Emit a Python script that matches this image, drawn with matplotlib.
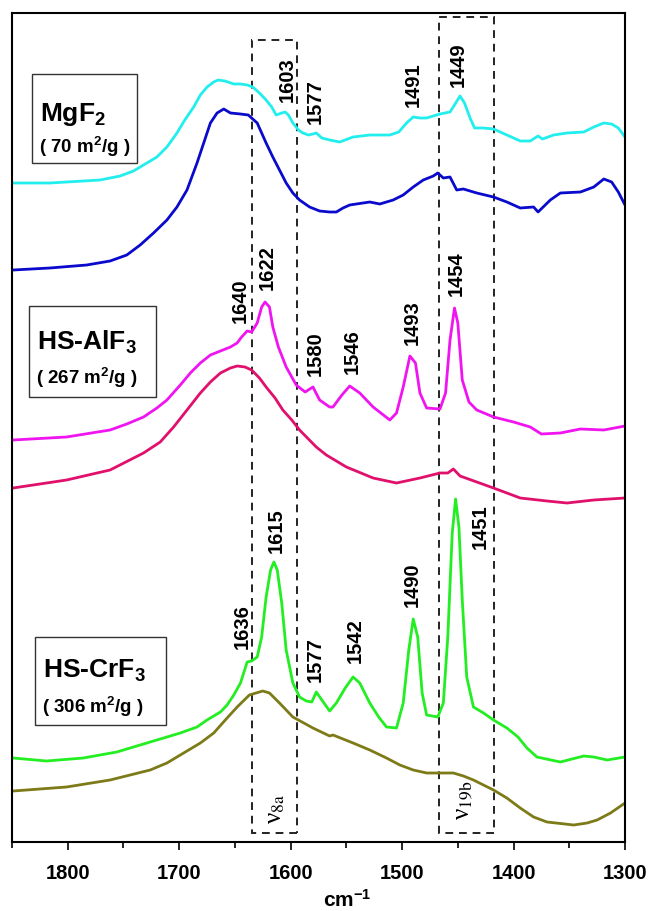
import matplotlib
matplotlib.use("Agg")
import matplotlib.pyplot as plt
from matplotlib.patches import Rectangle
from matplotlib.ticker import MultipleLocator

plt.rcParams["font.family"] = ["Liberation Sans", "DejaVu Sans"]
plt.rcParams["mathtext.fontset"] = "custom"
plt.rcParams["mathtext.rm"] = "Liberation Sans:bold"
plt.rcParams["mathtext.it"] = "Liberation Sans:bold"
plt.rcParams["mathtext.bf"] = "Liberation Sans:bold"

# traces: wavenumber and offset intensity
mgf2_top_wn = [1849, 1816, 1771, 1753, 1741, 1729, 1720, 1711, 1702, 1695, 1687, 1681, 1675, 1669, 1665, 1659, 1651, 1645,
               1639, 1634, 1628, 1622, 1617, 1613, 1608, 1605, 1602, 1598, 1593, 1589, 1584, 1580, 1577, 1572, 1565,
               1556, 1544, 1529, 1511, 1503, 1496, 1490, 1484, 1478, 1472, 1466, 1457, 1453, 1448, 1444, 1439, 1435,
               1427, 1418, 1406, 1394, 1385, 1378, 1374, 1364, 1352, 1337, 1328, 1319, 1312, 1306, 1300]
mgf2_top_y = [659, 659, 662, 666, 671, 679, 685, 695, 709, 722, 735, 747, 755, 760, 762, 761, 758, 758,
              757, 755, 749, 742, 735, 727, 729, 730, 727, 719, 712, 709, 707, 708, 709, 704, 702,
              700, 705, 707, 707, 710, 719, 725, 724, 724, 726, 728, 730, 737, 746, 739, 724, 714,
              714, 713, 707, 701, 701, 706, 703, 707, 709, 710, 715, 719, 718, 714, 705]

mgf2_bot_wn = [1849, 1816, 1783, 1762, 1747, 1735, 1723, 1711, 1702, 1693, 1684, 1678, 1672, 1666, 1660, 1654, 1645,
               1638, 1630, 1622, 1616, 1610, 1604, 1598, 1592, 1583, 1574, 1565,
               1559, 1553, 1547, 1529, 1520, 1508, 1499, 1490, 1481, 1472, 1468, 1463, 1457, 1451, 1445, 1433, 1418,
               1406, 1394, 1382, 1378, 1367, 1358, 1340, 1328, 1319, 1312, 1306, 1300]
mgf2_bot_y = [572, 574, 577, 581, 587, 597, 609, 622, 635, 652, 679, 699, 719, 729, 733, 729, 728,
              727, 719, 699, 685, 672, 659, 649, 642, 635, 631, 630,
              630, 634, 637, 640, 638, 642, 647, 655, 662, 666, 669, 664, 665, 652, 653, 649, 645,
              640, 634, 635, 630, 642, 649, 650, 655, 663, 660, 650, 637]

alf3_top_wn = [1849, 1801, 1762, 1747, 1732, 1720, 1711, 1699, 1690, 1681, 1672, 1663, 1654, 1648, 1644, 1639, 1635,
               1630, 1626, 1623, 1619, 1616, 1611, 1604, 1595, 1587, 1580, 1574, 1565,
               1562, 1554, 1547, 1538, 1526, 1511, 1505, 1499, 1493, 1488, 1484, 1478, 1466, 1461, 1457, 1453,
               1450, 1446, 1440, 1433, 1418, 1400, 1385, 1375, 1358, 1340, 1319, 1300]
alf3_top_y = [402, 405, 412, 418, 425, 434, 442, 457, 469, 479, 487, 491, 495, 499, 505, 511, 510,
              519, 535, 540, 535, 515, 495, 475, 457, 450, 455, 442, 435,
              435, 447, 456, 449, 435, 422, 429, 455, 486, 479, 449, 434, 433, 449, 502, 534,
              519, 462, 440, 432, 425, 420, 415, 408, 409, 413, 412, 416]

alf3_bot_wn = [1849, 1801, 1762, 1732, 1717, 1705, 1693, 1681, 1672, 1663, 1654, 1648, 1641, 1635, 1628, 1622,
               1614, 1607, 1599, 1592, 1577, 1568, 1550, 1526, 1505, 1484, 1466, 1459, 1454, 1448, 1433, 1418,
               1406, 1394, 1370, 1352, 1328, 1300]
alf3_bot_y = [354, 362, 372, 389, 400, 415, 432, 449, 460, 469, 474, 476, 475, 472, 464, 455,
              444, 432, 422, 412, 395, 387, 375, 364, 359, 364, 369, 369, 373, 366, 360, 354,
              349, 344, 341, 339, 342, 344]

crf3_top_wn = [1849, 1819, 1786, 1756, 1726, 1699, 1684, 1675, 1663, 1657, 1651, 1645, 1639, 1635, 1630, 1626,
               1622, 1618, 1615, 1612, 1608, 1604, 1598, 1592, 1586, 1581, 1577, 1572, 1565,
               1559, 1551, 1544, 1538, 1529, 1521, 1514, 1505, 1499, 1494, 1490, 1486, 1482, 1478, 1468, 1463,
               1459, 1455, 1452, 1449, 1446, 1442, 1436, 1427, 1418, 1406, 1396, 1388, 1379, 1358, 1337, 1328, 1316, 1300]
crf3_top_y = [84, 81, 84, 90, 100, 109, 115, 122, 130, 137, 147, 159, 180, 181, 185, 205,
              245, 272, 280, 272, 239, 192, 159, 145, 141, 140, 150, 142, 131,
              139, 154, 165, 159, 139, 125, 115, 114, 139, 192, 223, 205, 149, 127, 125, 139,
              205, 309, 343, 315, 242, 165, 135, 129, 122, 114, 105, 94, 85, 80, 86, 85, 82, 85]

crf3_bot_wn = [1849, 1801, 1762, 1726, 1711, 1696, 1681, 1669, 1657, 1648, 1637, 1625, 1619, 1610, 1598, 1580, 1565,
               1562, 1544, 1529, 1514, 1502, 1490, 1478, 1466, 1454, 1445, 1436, 1418,
               1406, 1394, 1382, 1370, 1346, 1334, 1325, 1313, 1300]
crf3_bot_y = [51, 55, 62, 72, 79, 89, 99, 109, 124, 135, 147, 151, 149, 139, 125, 114, 106,
              107, 99, 92, 84, 77, 72, 69, 69, 69, 66, 62, 52,
              44, 34, 25, 20, 17, 19, 22, 29, 39]

# peak labels (text, wavenumber, height)
peak_labels = [
    ("1603", 1603, 762), ("1577", 1578, 740), ("1491", 1490, 757), ("1449", 1450, 777),
    ("1640", 1645, 541), ("1622", 1621, 574), ("1580", 1578, 488), ("1546", 1545, 490),
    ("1493", 1491, 519), ("1454", 1451, 568),
    ("1636", 1643, 215), ("1615", 1613, 311), ("1577", 1578, 182), ("1542", 1542, 201),
    ("1490", 1491, 257), ("1451", 1430, 315),
]

samples = ["MgF$_2$", "HS-AlF$_3$", "HS-CrF$_3$"]
areas = ["( 70 m$^2$/g )", "( 267 m$^2$/g )", "( 306 m$^2$/g )"]

fig = plt.figure(figsize=(6.51, 9.11), dpi=100)
ax = fig.add_axes([12 / 651, 69 / 911, 613 / 651, 829 / 911])

traces = [
    (mgf2_top_wn, mgf2_top_y, "#22eeee"),
    (mgf2_bot_wn, mgf2_bot_y, "#0a0acc"),
    (alf3_top_wn, alf3_top_y, "#f014f0"),
    (alf3_bot_wn, alf3_bot_y, "#e0106c"),
    (crf3_top_wn, crf3_top_y, "#22ee22"),
    (crf3_bot_wn, crf3_bot_y, "#7d7a18"),
]
for wn, y, c in traces:
    ax.plot(wn, y, color=c, lw=2.0, solid_joinstyle="round", solid_capstyle="round")

ax.set_xlim(1850, 1300)
ax.set_ylim(0, 829)

# dashed band boxes
ax.add_patch(Rectangle((1594, 9), 40.5, 793, fill=False, ls=(0, (4, 3)), lw=1.4, ec="#222222"))
ax.add_patch(Rectangle((1417.5, 9), 49.5, 816, fill=False, ls=(0, (4, 3)), lw=1.4, ec="#222222"))
ax.text(1613, 33, r"ν$_{\mathrm{8a}}$", rotation=90, ha="center", va="center", fontsize=18,
        family="Liberation Serif", math_fontfamily="stix")
ax.text(1445, 42, r"ν$_{\mathrm{19b}}$", rotation=90, ha="center", va="center", fontsize=18,
        family="Liberation Serif", math_fontfamily="stix")

for txt, x, y in peak_labels:
    ax.text(x, y, txt, rotation=90, ha="center", va="center", fontsize=14.5, fontweight="bold")

# sample boxes (pixel boxes on the figure)
box_specs = [
    (32, 74, 137, 163, 115, 147),
    (29, 306, 156, 397, 342, 378),
    (35, 637, 166, 725, 671, 707),
]
for (x0, y0, x1, y1, ny, ay), name, area in zip(box_specs, samples, areas):
    ax.add_patch(Rectangle((x0 / 651, 1 - y1 / 911), (x1 - x0) / 651, (y1 - y0) / 911,
                           transform=fig.transFigure, fill=False, ec="#333333", lw=1.0))
    fig.text(x0 / 651 + 0.012, 1 - ny / 911, name, fontsize=19, fontweight="bold", va="center", ha="left")
    fig.text(x0 / 651 + 0.011, 1 - ay / 911, area, fontsize=13.5, fontweight="bold", va="center", ha="left")

ax.xaxis.set_major_locator(MultipleLocator(100))
ax.xaxis.set_minor_locator(MultipleLocator(50))
ax.tick_params(axis="x", which="major", direction="out", length=6, width=1.2, labelsize=14.5, pad=10)
ax.tick_params(axis="x", which="minor", direction="out", length=4, width=1.2)
ax.set_yticks([])
for lbl in ax.get_xticklabels():
    lbl.set_fontweight("bold")
for sp in ax.spines.values():
    sp.set_linewidth(1.5)

fig.text(347 / 651, 1 - 900 / 911, "cm$^{-1}$", fontsize=15, fontweight="bold", ha="center", va="center")

fig.savefig("out.png", dpi=100)
